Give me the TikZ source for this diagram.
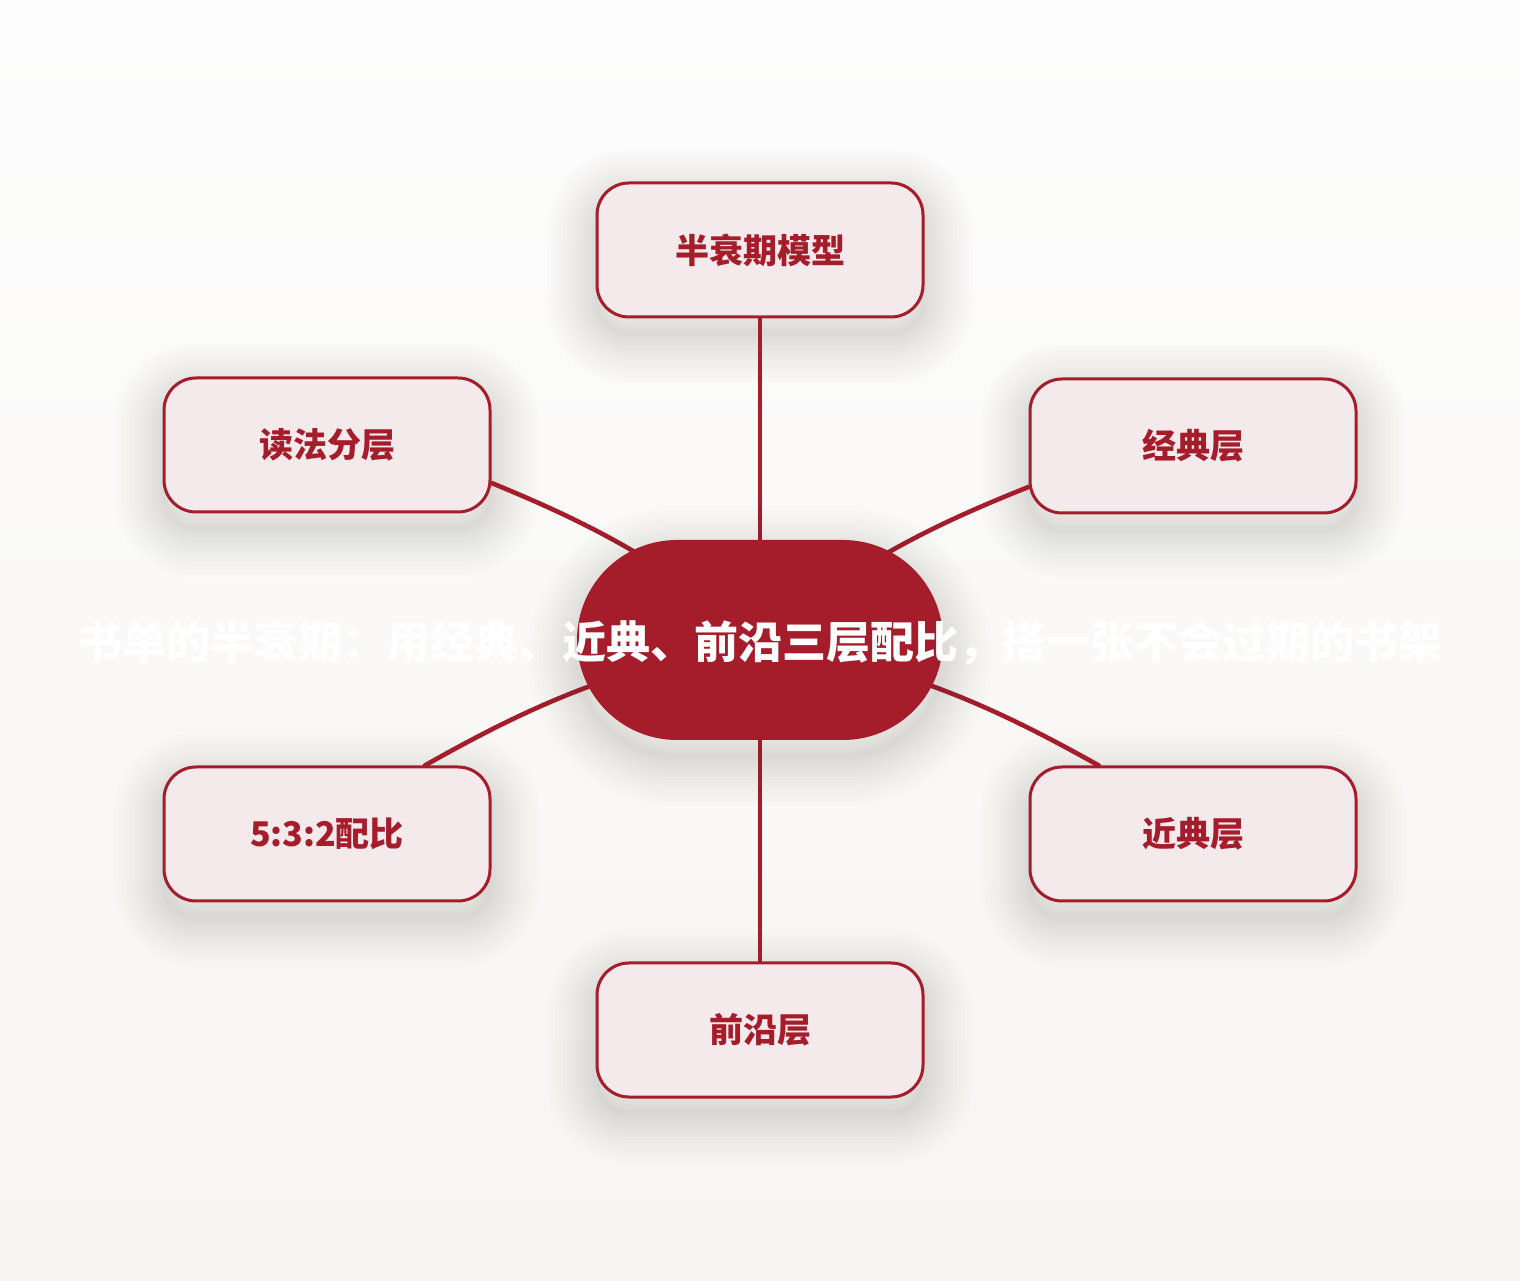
\documentclass[tikz,border=0pt]{standalone}
\usepackage{fontspec}
\setmainfont{Noto Sans CJK SC}
\definecolor{deepred}{HTML}{A51C2B}
\definecolor{petal}{HTML}{F4E9EB}
\definecolor{bgtop}{HTML}{FDFDFD}
\definecolor{bgbot}{HTML}{F7F5F2}
\definecolor{shadowgray}{HTML}{5A5048}
\tikzset{
  shring/.style={preaction={draw=shadowgray,draw opacity=0.012,line width=#1,transform canvas={yshift=-8pt}}},
  softshadow/.style={shring=50pt,shring=46pt,shring=42pt,shring=38pt,shring=34pt,shring=30pt,shring=27pt,shring=24pt,
    shring=21pt,shring=18pt,shring=15pt,shring=12pt,shring=9pt,shring=6pt,shring=4pt,shring=2pt},
  leaf/.style={draw=deepred,line width=1.5pt,fill=petal,rounded corners=16pt,
    minimum width=163pt,minimum height=67pt,inner sep=0pt,
    text=deepred,font=\fontsize{17pt}{20pt}\selectfont\bfseries,softshadow},
  hub/.style={fill=deepred,rounded corners=50pt,minimum width=183pt,minimum height=100pt,inner sep=0pt,softshadow},
  hubtext/.style={text=white,font=\fontsize{22pt}{26pt}\selectfont\bfseries,inner sep=0pt},
  link/.style={draw=deepred,line width=2.3pt,line cap=round}
}
\begin{document}
\begin{tikzpicture}[x=0.5pt,y=0.5pt]
\shade[top color=bgtop,bottom color=bgbot] (0,0) rectangle (1520,1280);
\useasboundingbox (0,0) rectangle (1520,1280);
\coordinate (cc) at (760,640);
\node[leaf] (top) at (760,1030) {半衰期模型};
\node[leaf] (ul) at (327,835) {读法分层};
\node[leaf] (ur) at (1193,834) {经典层};
\node[leaf] (ll) at (327,446) {5:3:2配比};
\node[leaf] (lr) at (1193,446) {近典层};
\node[leaf] (bot) at (760,250) {前沿层};
\draw[link] (cc) -- (top.south);
\draw[link] (cc) -- (bot.north);
\draw[link] (cc) to[bend right=8] (ul.-13.5);
\draw[link] (cc) to[bend left=8] (ur.-166.2);
\draw[link] (cc) to[bend right=9] (ll.35.8);
\draw[link] (cc) to[bend left=9] (lr.144.2);
\node[hub] (hub) at (cc) {};
\node[hubtext] (title) at (760,637) {书单的半衰期：用经典、近典、前沿三层配比，搭一张不会过期的书架};
\end{tikzpicture}
\end{document}
